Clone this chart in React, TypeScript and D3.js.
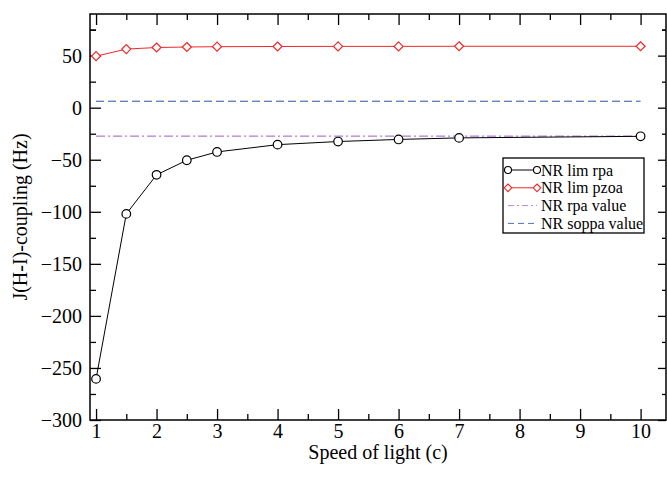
import React, { useRef, useEffect } from "react";
import * as d3 from "d3";

// speed of light scaling factor (c)
const speeds = [1, 1.5, 2, 2.5, 3, 4, 5, 6, 7, 10];
// NR limit of rpa, Hz
const rpaLim = [-260.5, -102, -64.5, -50.5, -42.5, -35.5, -32.5, -30.5, -29, -27.5];
// NR limit of pzoa, Hz
const pzoaLim = [49.5, 56.3, 57.8, 58.3, 58.6, 58.8, 58.9, 58.9, 59, 59];
const rpaValue = -27.3;
const soppaValue = 6.2;

const xTicks = [1, 2, 3, 4, 5, 6, 7, 8, 9, 10];
const yTicks = [-300, -250, -200, -150, -100, -50, 0, 50];

const W = 667;
const H = 481;
const FONT = "'Liberation Serif', 'Times New Roman', serif";

function Chart() {
  const svgRef = useRef<SVGSVGElement>(null);

  useEffect(() => {
    const svg = d3.select(svgRef.current);
    svg.selectAll("*").remove();

    const left = 90, right = 666, top = 14, bottom = 420;
    const x = d3.scaleLinear().domain([0.9, 10.42]).range([left, right]);
    const y = d3.scaleLinear().domain([-300, 90]).range([bottom, top]);

    const minorX = d3.range(1, 10.41, 0.5).filter(v => !Number.isInteger(v));
    const minorY = d3.range(-275, 90, 50);

    const styleAxis = (g: any) => {
      g.attr("font-family", FONT).attr("font-size", 20);
      g.select(".domain").remove();
      g.selectAll("line").attr("stroke", "#000").attr("stroke-width", 1.3);
      g.selectAll("text")
        .attr("font-family", FONT)
        .attr("font-size", 20)
        .attr("fill", "#000");
    };

    // bottom
    svg.append("g")
      .attr("transform", `translate(0,${bottom})`)
      .call(d3.axisBottom(x).tickValues(xTicks).tickSize(-11).tickPadding(4).tickFormat(d3.format("d")))
      .call(styleAxis);
    svg.append("g")
      .attr("transform", `translate(0,${bottom})`)
      .call(d3.axisBottom(x).tickValues(minorX).tickSize(-6).tickFormat(() => ""))
      .call(styleAxis);
    // top
    svg.append("g")
      .attr("transform", `translate(0,${top})`)
      .call(d3.axisTop(x).tickValues(xTicks).tickSize(-11).tickFormat(() => ""))
      .call(styleAxis);
    svg.append("g")
      .attr("transform", `translate(0,${top})`)
      .call(d3.axisTop(x).tickValues(minorX).tickSize(-6).tickFormat(() => ""))
      .call(styleAxis);
    // left
    svg.append("g")
      .attr("transform", `translate(${left},0)`)
      .call(d3.axisLeft(y).tickValues(yTicks).tickSize(-11).tickPadding(8).tickFormat(d3.format("d")))
      .call(styleAxis);
    svg.append("g")
      .attr("transform", `translate(${left},0)`)
      .call(d3.axisLeft(y).tickValues(minorY.concat([75])).tickSize(-6).tickFormat(() => ""))
      .call(styleAxis);
    // right
    svg.append("g")
      .attr("transform", `translate(${right},0)`)
      .call(d3.axisRight(y).tickValues(yTicks).tickSize(-8).tickFormat(() => ""))
      .call(styleAxis);
    svg.append("g")
      .attr("transform", `translate(${right},0)`)
      .call(d3.axisRight(y).tickValues(minorY.concat([75])).tickSize(-4).tickFormat(() => ""))
      .call(styleAxis);

    // frame
    svg.append("rect")
      .attr("x", left).attr("y", top)
      .attr("width", right - left).attr("height", bottom - top)
      .attr("fill", "none").attr("stroke", "#000").attr("stroke-width", 1.5);

    const plot = svg.append("g");

    // reference lines
    plot.append("line")
      .attr("x1", x(1)).attr("x2", x(10))
      .attr("y1", y(soppaValue)).attr("y2", y(soppaValue))
      .attr("stroke", "#3050a0").attr("stroke-width", 1)
      .attr("stroke-dasharray", "8,4");
    plot.append("line")
      .attr("x1", x(1)).attr("x2", x(10))
      .attr("y1", y(rpaValue)).attr("y2", y(rpaValue))
      .attr("stroke", "#9a5cc8").attr("stroke-width", 1)
      .attr("stroke-dasharray", "9,3,2,3");

    const line = d3.line<[number, number]>().x(d => x(d[0])).y(d => y(d[1]));
    const rpaPts: [number, number][] = speeds.map((s, i) => [s, rpaLim[i]]);
    const pzoaPts: [number, number][] = speeds.map((s, i) => [s, pzoaLim[i]]);

    plot.append("path").attr("d", line(pzoaPts)!)
      .attr("fill", "none").attr("stroke", "#f02828").attr("stroke-width", 1);
    plot.append("path").attr("d", line(rpaPts)!)
      .attr("fill", "none").attr("stroke", "#000").attr("stroke-width", 1);

    const diamond = (cx: number, cy: number, r: number) =>
      `M${cx},${cy - r}L${cx + r},${cy}L${cx},${cy + r}L${cx - r},${cy}Z`;

    plot.selectAll(".dia").data(pzoaPts).join("path")
      .attr("class", "dia")
      .attr("d", d => diamond(x(d[0]), y(d[1]), 4.5))
      .attr("fill", "#fff").attr("stroke", "#f02828").attr("stroke-width", 1.2);
    plot.selectAll(".circ").data(rpaPts).join("circle")
      .attr("class", "circ")
      .attr("cx", d => x(d[0])).attr("cy", d => y(d[1])).attr("r", 4.3)
      .attr("fill", "#fff").attr("stroke", "#000").attr("stroke-width", 1.2);

    // legend
    const lg = svg.append("g");
    lg.append("rect")
      .attr("x", 503).attr("y", 158).attr("width", 141).attr("height", 75)
      .attr("fill", "#fff").attr("stroke", "#000").attr("stroke-width", 1.3);
    const entries = [
      { label: "NR lim rpa", color: "#000", dash: null, marker: "circle" },
      { label: "NR lim pzoa", color: "#f02828", dash: null, marker: "diamond" },
      { label: "NR rpa value", color: "#b088dd", dash: "6,3,2,3", marker: null },
      { label: "NR soppa value", color: "#5070c0", dash: "6,4", marker: null },
    ];
    entries.forEach((e, i) => {
      const yy = 170 + i * 17.8;
      lg.append("line")
        .attr("x1", 508).attr("x2", 537).attr("y1", yy).attr("y2", yy)
        .attr("stroke", e.color).attr("stroke-width", 1)
        .attr("stroke-dasharray", e.dash);
      [508, 537].forEach(mx => {
        if (e.marker === "circle") {
          lg.append("circle").attr("cx", mx).attr("cy", yy).attr("r", 3.5)
            .attr("fill", "#fff").attr("stroke", e.color).attr("stroke-width", 1.1);
        } else if (e.marker === "diamond") {
          lg.append("path").attr("d", diamond(mx, yy, 3.8))
            .attr("fill", "#fff").attr("stroke", e.color).attr("stroke-width", 1.1);
        }
      });
      lg.append("text")
        .attr("x", 541).attr("y", yy + 5.5)
        .attr("font-family", FONT).attr("font-size", 16)
        .text(e.label);
    });

    // axis titles
    svg.append("text")
      .attr("x", (left + right) / 2).attr("y", 459)
      .attr("text-anchor", "middle")
      .attr("font-family", FONT).attr("font-size", 20)
      .text("Speed of light (c)");
    svg.append("text")
      .attr("transform", `translate(27,${(top + bottom) / 2}) rotate(-90)`)
      .attr("text-anchor", "middle")
      .attr("font-family", FONT).attr("font-size", 20)
      .text("J(H-I)-coupling (Hz)");
  }, []);

  return (
    <svg
      ref={svgRef}
      width={W}
      height={H}
      style={{ position: "absolute", left: 0, top: 0, background: "#fff" }}
    />
  );
}

export default function App() {
  return <Chart />;
}
